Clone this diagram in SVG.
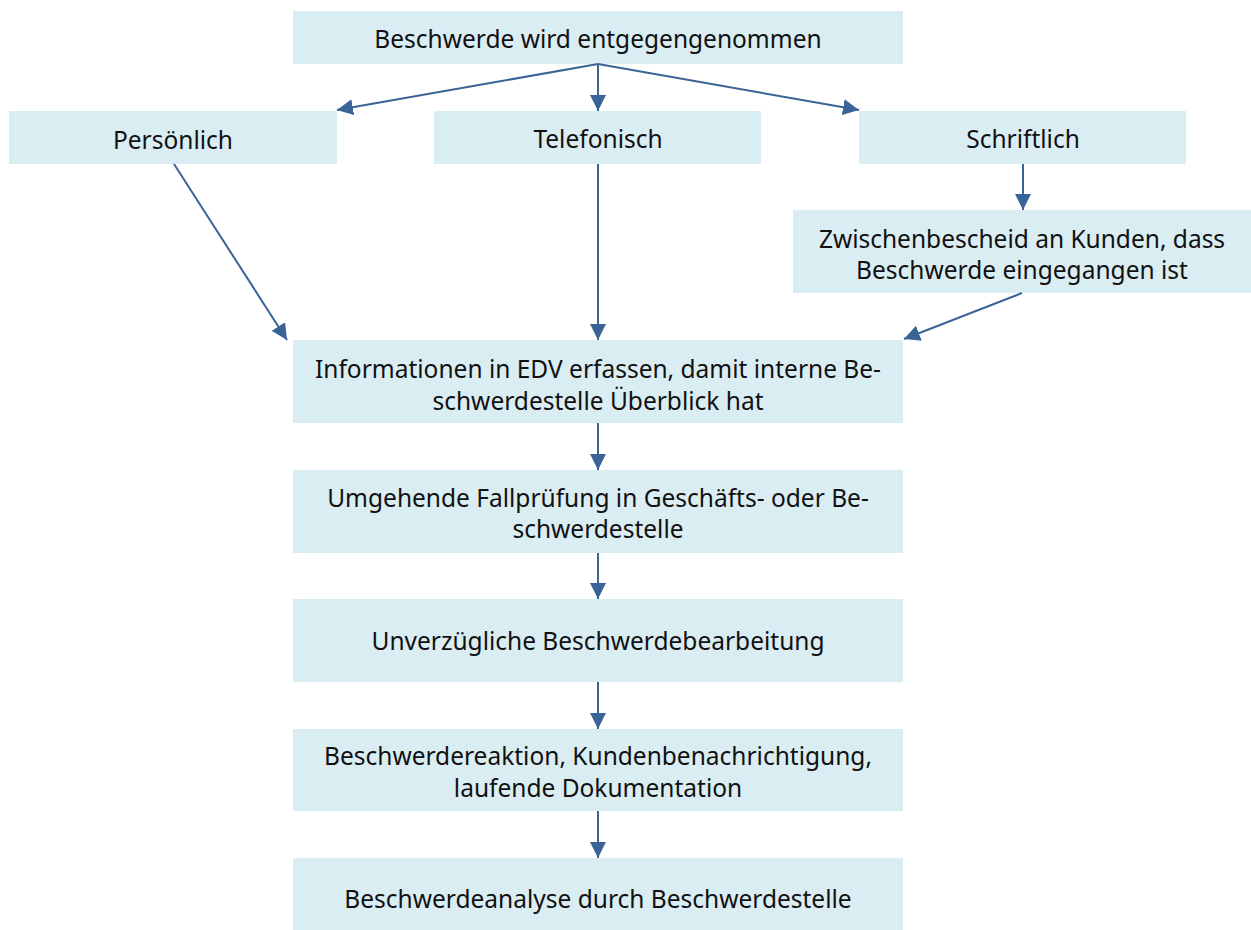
<svg xmlns="http://www.w3.org/2000/svg" width="1251" height="930" viewBox="0 0 1251 930">
<style>
.box{fill:#daedf3}
.t{font-family:"Noto Sans","Open Sans",sans-serif;font-size:24.5px;fill:#111;text-anchor:middle}
.c{stroke:#3a6496;stroke-width:2;fill:none;marker-end:url(#ah)}
</style>
<defs>
<marker id="ah" markerUnits="userSpaceOnUse" markerWidth="16" markerHeight="16" viewBox="0 0 16 16" refX="16" refY="8" orient="auto">
<path d="M0,0 L16,8 L0,16 Z" fill="#3a6496"/>
</marker>
</defs>
<rect width="1251" height="930" fill="#fff"/>
<g id="n1"><rect class="box" x="293" y="11" width="610" height="53"/><text class="t" x="598" y="48">Beschwerde wird entgegengenommen</text></g>
<g id="n2"><rect class="box" x="9" y="111" width="328" height="53"/><text class="t" x="173" y="149">Persönlich</text></g>
<g id="n3"><rect class="box" x="434" y="111" width="327" height="53"/><text class="t" x="598" y="148">Telefonisch</text></g>
<g id="n4"><rect class="box" x="859" y="111" width="327" height="53"/><text class="t" x="1023" y="148">Schriftlich</text></g>
<g id="n5"><rect class="box" x="793" y="210" width="458" height="83"/><text class="t" x="1022" y="248">Zwischenbescheid an Kunden, dass</text><text class="t" x="1022" y="279">Beschwerde eingegangen ist</text></g>
<g id="n6"><rect class="box" x="293" y="340" width="610" height="83"/><text class="t" x="598" y="378">Informationen in EDV erfassen, damit interne Be-</text><text class="t" x="598" y="410">schwerdestelle Überblick hat</text></g>
<g id="n7"><rect class="box" x="293" y="470" width="610" height="83"/><text class="t" x="598" y="507">Umgehende Fallprüfung in Geschäfts- oder Be-</text><text class="t" x="598" y="538">schwerdestelle</text></g>
<g id="n8"><rect class="box" x="293" y="599" width="610" height="83"/><text class="t" x="598" y="650">Unverzügliche Beschwerdebearbeitung</text></g>
<g id="n9"><rect class="box" x="293" y="729" width="610" height="82"/><text class="t" x="598" y="765">Beschwerdereaktion, Kundenbenachrichtigung,</text><text class="t" x="598" y="797">laufende Dokumentation</text></g>
<g id="n10"><rect class="box" x="293" y="858" width="610" height="72"/><text class="t" x="598" y="908">Beschwerdeanalyse durch Beschwerdestelle</text></g>
<g id="connectors">
<line class="c" x1="598" y1="64" x2="337" y2="110"/>
<line class="c" x1="598" y1="64" x2="598" y2="111"/>
<line class="c" x1="598" y1="64" x2="859" y2="110"/>
<line class="c" x1="174" y1="164" x2="287" y2="340"/>
<line class="c" x1="598" y1="164" x2="598" y2="340"/>
<line class="c" x1="1023" y1="164" x2="1023" y2="210"/>
<line class="c" x1="1022" y1="293" x2="904" y2="339"/>
<line class="c" x1="598" y1="423" x2="598" y2="470"/>
<line class="c" x1="598" y1="553" x2="598" y2="599"/>
<line class="c" x1="598" y1="682" x2="598" y2="729"/>
<line class="c" x1="598" y1="811" x2="598" y2="858"/>
</g>
</svg>
